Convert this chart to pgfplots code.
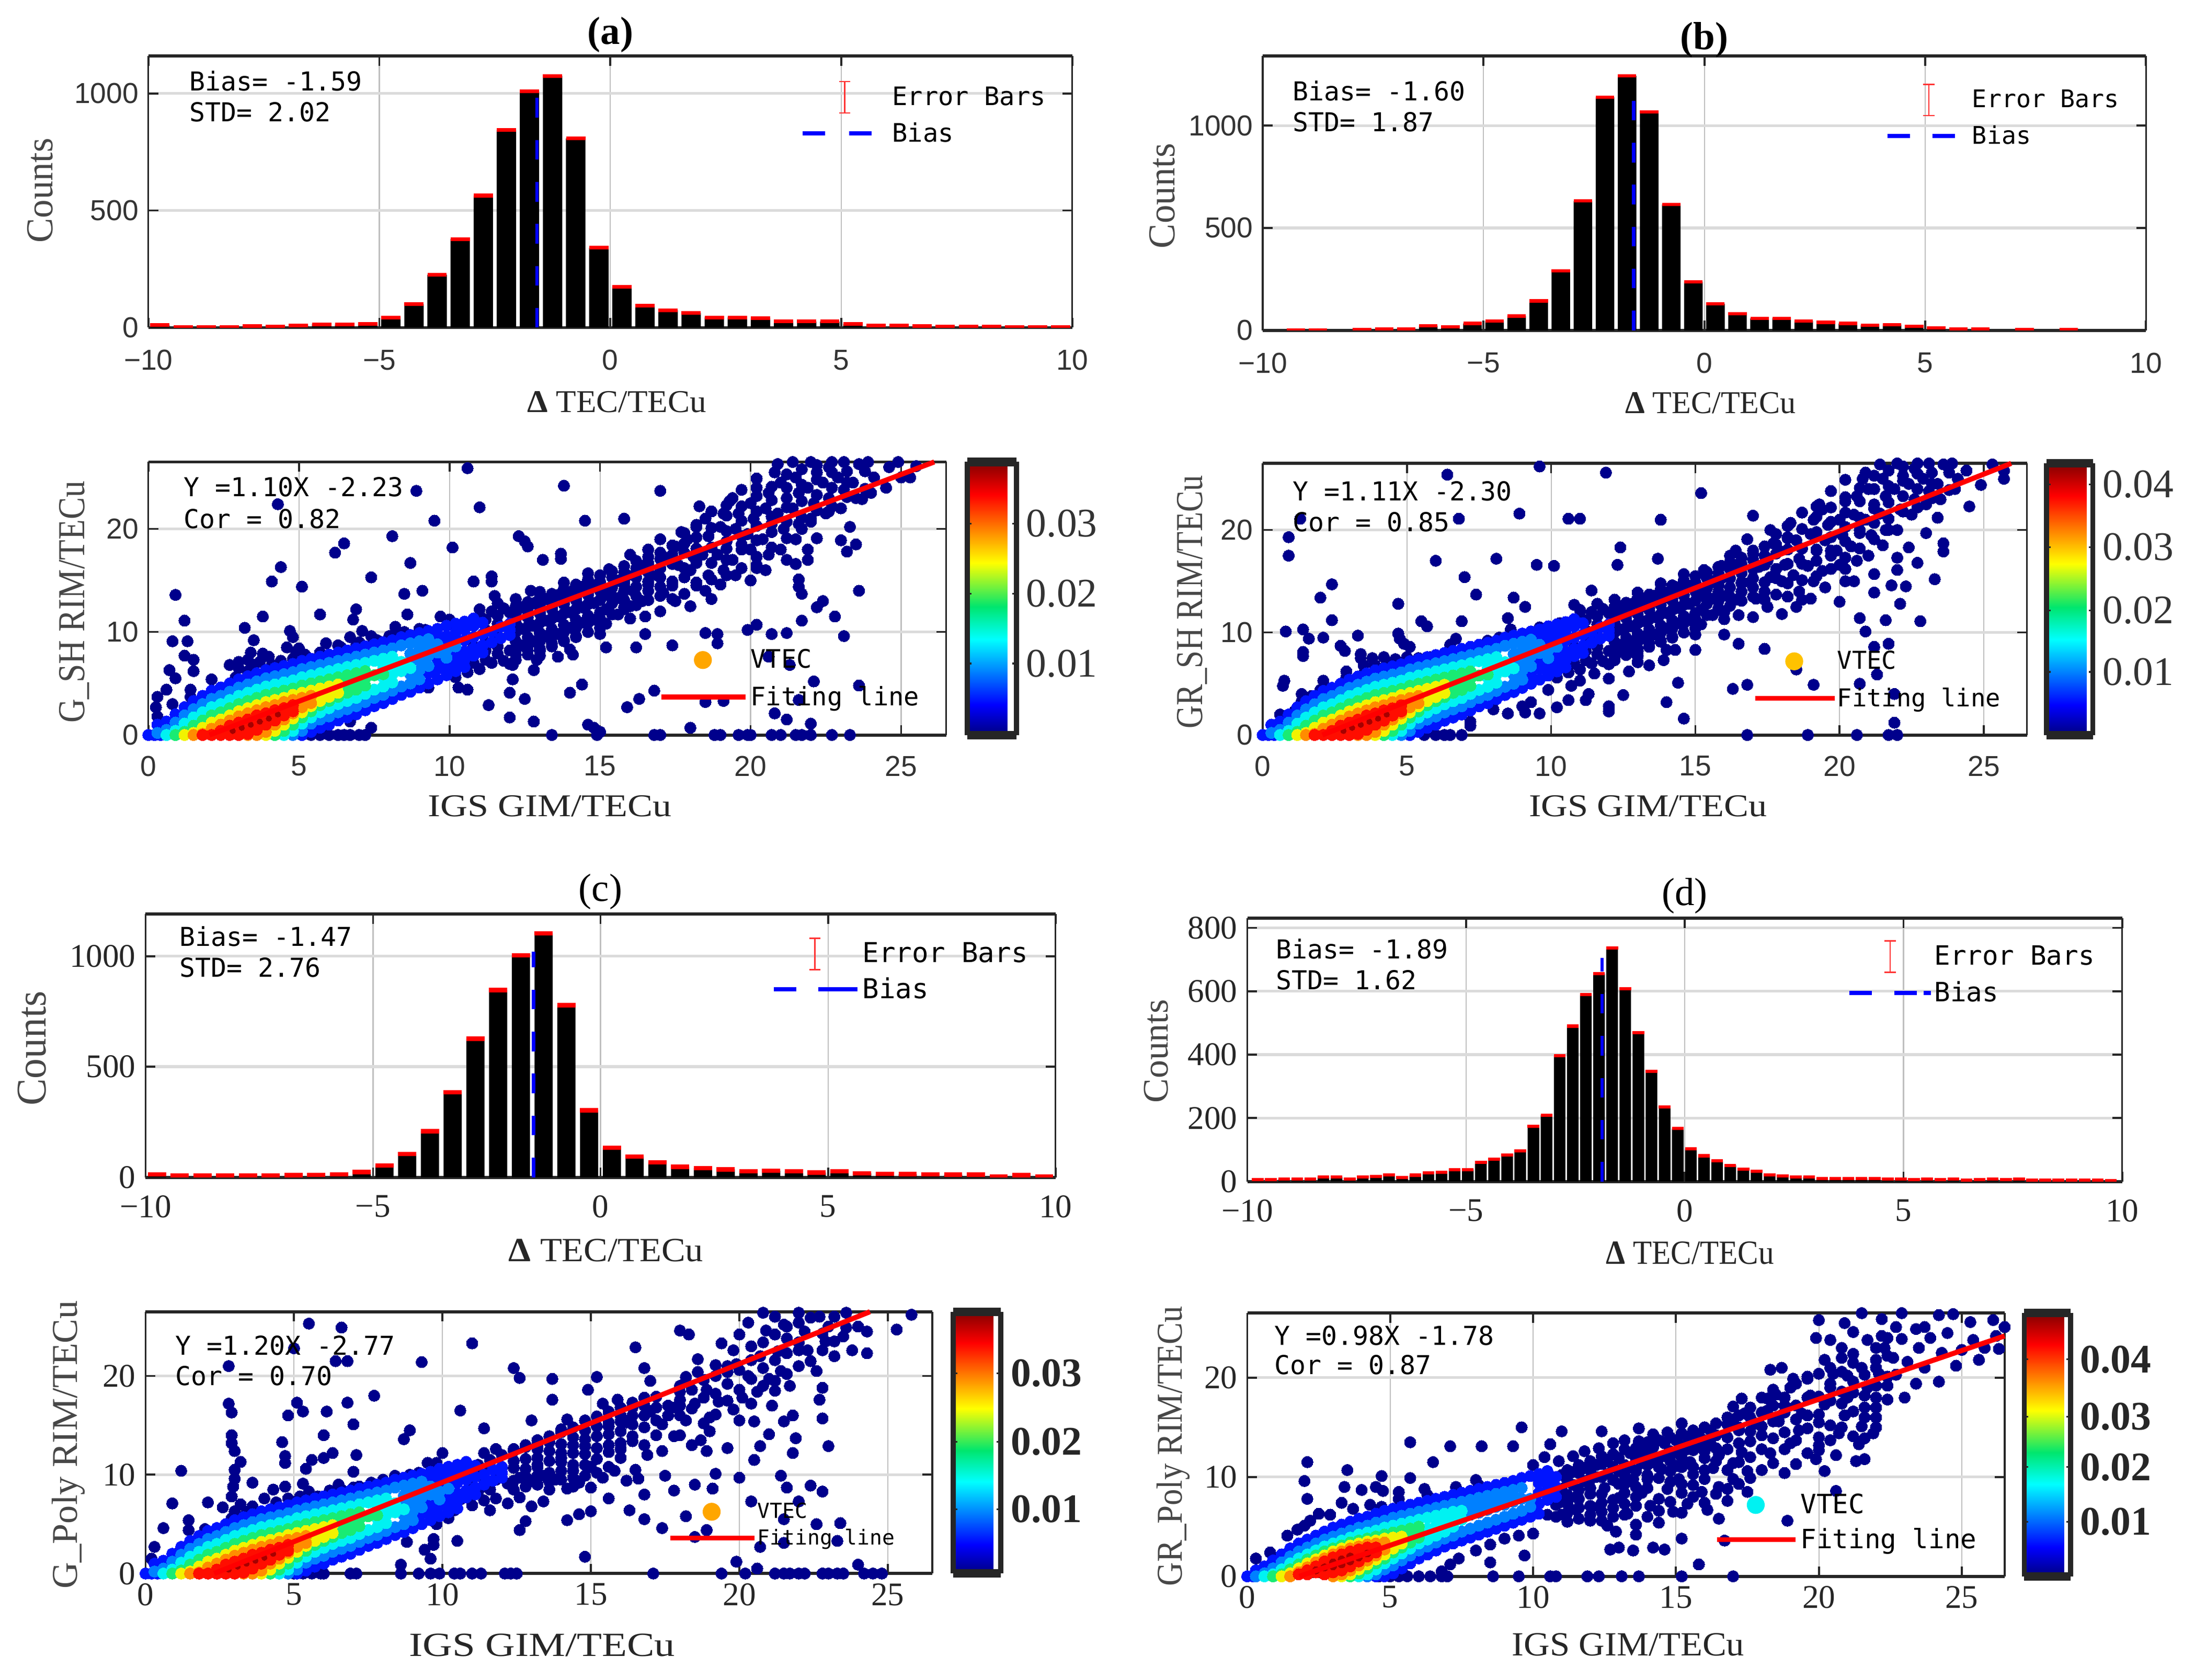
\documentclass[border=0pt]{standalone}
\usepackage{fontspec}
\usepackage{graphicx}
\usepackage{pgfplots}
\pgfplotsset{compat=1.18}
\newfontfamily\lsans{Liberation Sans}
\newfontfamily\lserif{Liberation Serif}
\newfontfamily\lmono{DejaVu Sans Mono}
\definecolor{J1}{rgb}{0,0,.55}
\definecolor{J2}{rgb}{0,.08,1}
\definecolor{J3}{rgb}{0,.5,1}
\definecolor{J4}{rgb}{0,.95,.95}
\definecolor{J5}{rgb}{.1,.92,.45}
\definecolor{J6}{rgb}{.95,.95,0}
\definecolor{J7}{rgb}{1,.55,0}
\definecolor{J8}{rgb}{1,.05,0}
\definecolor{J9}{rgb}{.65,0,0}
\definecolor{ebred}{rgb}{1,.2,.2}
\definecolor{VO}{rgb}{1,.65,0}
\definecolor{VY}{rgb}{1,.76,0}
\newcommand\fsz[1]{\fontsize{#1}{#1}\selectfont}
\newcommand\lab[3]{\resizebox{#1pt}{#2pt}{\lserif #3}}
\newcommand\T[3]{\node[anchor=west,inner sep=0pt,font=\lmono\fsz{9.3}] at ({#1*0.5pt},{(1200-#2)*0.5pt}) {#3};}
\newcommand\lay[3][2.05pt]{\addplot[only marks,mark=*,mark size=#1,color=#2,mark options={draw=#2,fill=#2,line width=0pt},forget plot] coordinates {#3};}
% legend images: width, icon position
\newcommand\legEB[2]{\addlegendimage{legend image code/.code={\path (0pt,-5.7pt) (#1pt,6.3pt);\draw[ebred,line width=.5pt] (#2pt,-5.3pt)--(#2pt,5.9pt) (#2pt-2pt,-5.3pt)--(#2pt+2pt,-5.3pt) (#2pt-2pt,5.9pt)--(#2pt+2pt,5.9pt);}}\addlegendentry{Error Bars}}
\newcommand\legB[2]{\addlegendimage{legend image code/.code={\path (0pt,-5.7pt) (#1pt,6.3pt);\draw[blue,line width=1.5pt,dash pattern=#2] (0pt,.3pt)--(#1pt,.3pt);}}\addlegendentry{Bias}}
\newcommand\legV[3]{\addlegendimage{legend image code/.code={\path (0pt,-5.7pt) (#1pt,6.3pt);\fill[#3] (#2pt,.3pt) circle (3pt);}}\addlegendentry{VTEC}}
\newcommand\legF[1]{\addlegendimage{legend image code/.code={\path (0pt,-5.7pt) (#1pt,6.3pt);\draw[red,line width=1.7pt] (0pt,.3pt)--(#1pt,.3pt);}}\addlegendentry{Fiting line}}
\pgfplotsset{
 colormap={cj}{rgb255(0cm)=(0,0,130); rgb255(1.1cm)=(0,0,255); rgb255(3.5cm)=(0,255,255); rgb255(4.7cm)=(0,230,110); rgb255(6.3cm)=(255,255,0); rgb255(8.8cm)=(255,0,0); rgb255(10cm)=(130,0,0)},
 base/.style={scale only axis,tick align=inside,grid=major,
  x grid style={black!25,line width=.4pt},y grid style={black!14,line width=1pt},
  tick style={black!85,line width=.7pt},major tick length=3.5pt,
  separate axis lines,x axis line style={line width=1.1pt,black!85},y axis line style={line width=.6pt,black!85},
  xlabel style={anchor=center,black!85},ylabel style={anchor=center,black!72},
  title style={anchor=center,yshift=-6pt},
  legend cell align=left},
 tsans/.style={tick label style={font=\lsans\fsz{10.3},black!80}},
 tserif/.style={tick label style={font=\lserif\fsz{11.8},black!85}},
 hist/.style={base,xmin=-10,xmax=10,ymin=0,xtick={-10,-5,0,5,10},xticklabels={−10,−5,0,5,10}},
 scat/.style={base,clip=false,xmin=0,xmax=26.5,ymin=0,ymax=26.5,xtick={0,5,10,15,20,25},xticklabels={0,5,10,15,20,25},ytick={0,10,20},yticklabels={0,10,20},colormap name=cj,point meta min=0,point meta max=1},
 ov/.style={scale only axis,hide axis,clip=false,xmin=0,xmax=26.5,ymin=0,ymax=26.5,legend cell align=left},
 leg/.style n args={5}{legend style={draw=none,fill=none,inner sep=0pt,outer sep=0pt,at={(#1,#2)},anchor=north west,row sep=#3,font=\lmono\fsz{#5},nodes={inner sep=0pt,outer sep=0pt},/tikz/column sep=#4}},
 cbar/.style n args={4}{colorbar,colorbar style={at={(#1,1)},anchor=north west,width=#2pt,ytick={#3},yticklabels={#4},yticklabel pos=right,xmin=0,xmax=.9,
   separate axis lines,x axis line style={line width=3pt,black!85},y axis line style={line width=1.8pt,black!85},major tick length=1.5pt,tick style={black!85,line width=.6pt},grid=none}},
 bars/.style n args={2}{ybar,bar width=#1,bar shift=0pt,fill=black,draw=none,forget plot,error bars/.cd,y dir=both,y fixed=#2,error mark=none},
}
\newcommand\coreA{%
\lay{J2}{(0,0)(.2,0)(.4,0)(.3,1)(.6,1.3)(.9,2)(1.2,2.7)(1.5,3.3)(1.8,3.8)(2.1,4.3)(2.4,4.6)(2.7,5)(3,5.4)(3.3,5.7)(3.6,6)(3.9,6.3)(4.2,6.5)(4.5,6.7)(4.8,6.9)(5.1,7.2)(5.4,7.4)(5.7,7.6)(6,7.8)(6.3,8)(6.6,8.2)(6.9,8.4)(7.2,8.6)(7.5,8.8)(7.8,9)(8.1,9.2)(8.4,9.5)(8.7,9.7)(9,9.9)(9.3,10.1)(9.6,10.3)(9.9,10.6)(10.2,10.8)(10.5,11)(10.8,11.3)
(3.9,0)(4.2,0)(4.5,0)(4.8,0)(5.1,0)(5.4,.3)(5.7,.7)(6,1)(6.3,1.4)(6.6,1.7)(6.9,2)(7.2,2.4)(7.5,2.8)(7.8,3.1)(8.1,3.5)(8.4,3.9)(8.7,4.2)(9,4.6)(9.3,5)(9.6,5.4)(9.9,5.8)(10.2,6.2)(10.5,6.6)
(9.9,9.6)(10.2,9.9)(10.5,10.2)(10.8,10.6)(11.1,10.9)(9.9,7.4)(10.2,7.7)(10.5,8.1)(10.8,8.4)(11.1,8.7)(11.4,9)(11.7,9.4)(12,9.7)(11.4,10)(11.7,10.5)(12,10.8)
(10.2,8.8)(10.5,9.2)(10.8,9.5)(11.1,9.8)(10.5,7.3)(10.8,7.7)(11.1,8)(12,10.2)
(9.3,6)(9.6,6.4)(9.9,6.8)(10.2,7)(9.6,7.3)(9.3,9.2)(9.6,9.5)(9.9,9)(10.2,9.3)}%
\lay{J3}{(.3,.2)(.6,.5)(.9,1.2)(1.2,1.9)(1.5,2.5)(1.8,3)(2.1,3.5)(2.4,3.8)(2.7,4.2)(3,4.6)(3.3,4.9)(3.6,5.2)(3.9,5.5)(4.2,5.7)(4.5,5.9)(4.8,6.1)(5.1,6.4)(5.4,6.6)(5.7,6.8)(6,7)(6.3,7.2)(6.6,7.4)(6.9,7.6)(7.2,7.8)(7.5,8)(7.8,8.2)(8.1,8.4)(8.4,8.7)(8.7,8.9)(9,9.1)(9.3,9.3)
(4.2,0)(4.5,0)(4.8,0)(5.1,.4)(5.4,1.1)(5.7,1.5)(6,1.8)(6.3,2.2)(6.6,2.5)(6.9,2.8)(7.2,3.2)(7.5,3.6)(7.8,3.9)(8.1,4.3)(8.4,4.7)(8.7,5)(9,5.4)(8.7,7)(9,7.3)(9.3,7.7)(9.6,8)(9.9,8.3)(10.2,8.6)
(8.7,5.9)(9,6.3)(9.3,6.7)(9.9,7.5)(8.7,7.9)(9,8.2)(9.3,8.5)(9.6,8.8)}%
\lay{J4}{(.6,0)(.9,.4)(1.2,1.1)(1.5,1.7)(1.8,2.2)(2.1,2.7)(2.4,3)(2.7,3.4)(3,3.8)(3.3,4.1)(3.6,4.4)(3.9,4.7)(4.2,4.9)(4.5,5.1)(4.8,5.3)(5.1,5.6)(5.4,5.8)(5.7,6)(6,6.2)(6.3,6.4)(6.6,6.6)(6.9,6.8)(7.2,7)(7.5,7.2)(7.8,7.4)(8.1,7.6)
(3.9,0)(4.2,0)(4.5,0)(4.8,.4)(5.1,1.1)(5.4,1.7)(5.7,2.2)(6,2.6)(6.3,3)(6.6,3.3)(6.9,3.6)(7.2,4)(7.5,4.4)(7.8,4.7)(8.1,5.1)
(7.8,5.6)(8.1,5.9)(8.4,6.2)(8.7,6.5)(7.8,6.5)(8.1,6.8)(8.4,7.1)}%
\lay{J5}{(.9,0)(1.2,.3)(1.5,.9)(1.8,1.4)(2.1,1.9)(2.4,2.2)(2.7,2.6)(3,3)(3.3,3.3)(3.6,3.6)(3.9,3.9)(4.2,4.1)(4.5,4.3)(4.8,4.5)(5.1,4.8)(5.4,5)(5.7,5.2)(6,5.4)(6.3,5.6)(6.6,5.8)(6.9,6)(7.2,6.2)
(3.6,0)(3.9,0)(4.2,0)(4.5,.4)(4.8,1)(5.1,1.7)(5.4,2.3)(5.7,2.9)(6,3.3)(6.3,3.7)(6.6,4.1)(6.9,4.4)(7.2,4.8)(7.8,5.9)
(6.6,4.9)(6.9,5.2)(7.2,5.5)(7.5,5.8)}%
\lay{J6}{(1.2,0)(1.5,.2)(1.8,.7)(2.1,1.2)(2.4,1.5)(2.7,1.9)(3,2.3)(3.3,2.6)(3.6,2.9)(3.9,3.2)(4.2,3.4)(4.5,3.6)(4.8,3.9)(5.1,4.1)(5.4,4.3)(5.7,4.5)(6,4.7)(6.3,4.9)
(3.3,0)(3.6,0)(3.9,0)(4.2,.4)(4.5,1)(4.8,1.6)(5.1,2.2)(5.4,2.8)(5.7,3.3)(6,3.7)(6.3,4.1)(5.7,3.9)(6,4.2)}%
\lay{J7}{(1.5,0)(1.8,.1)(2.1,.6)(2.4,1)(2.7,1.4)(3,1.8)(3.3,2.1)(3.6,2.4)(3.9,2.7)(4.2,2.9)(4.5,3.2)(4.8,3.4)(5.1,3.6)(5.4,3.8)
(3,0)(3.3,0)(3.6,0)(3.9,.3)(4.2,1)(4.5,1.5)(4.8,2.1)(5.1,2.7)(5.4,3.1)}%
\lay{J8}{(1.8,0)(2.1,0)(2.4,.4)(2.7,.9)(3,1.2)(3.3,1.5)(3.6,1.9)(3.9,2.1)(4.2,2.4)(4.5,2.6)(4.8,2.9)
(2.4,0)(2.7,0)(3,0)(3.3,.1)(3.6,.5)(3.9,1)(4.2,1.4)(4.5,1.9)(4.8,2.3)(2.7,.5)(3,.8)(3.3,1)(3.6,1.3)(3.9,1.5)(4.2,1.9)}%
\lay[1pt]{J9}{(2.8,.4)(3.1,.7)(3.4,1)(3.7,1.3)(4,1.6)(4.3,2)}%
}
\newcommand\bulkA{\lay{J1}{(10,6.3)(10,7.6)(10.4,6.7)(10.4,8)(10.4,10.3)(10.8,7)(10.8,8.6)(10.8,10.7)(11.2,7.3)(11.2,9)(11.2,11.2)(11.6,7.9)(11.6,9.4)(11.6,11.6)(12,8.2)(12,9.9)(12,11.9)(12.4,8.7)(12.4,10.3)(12.4,12.4)(12.8,9.1)(12.8,10.6)(12.8,12.8)(13.2,9.6)(13.2,11.1)(13.2,13.2)(13.6,9.8)(13.6,11.5)(13.6,13.6)(14,10.4)(14,11.9)(14,13.9)(14.4,10.9)(14.4,12.4)(14.4,14.4)(14.8,11.2)(14.8,12.8)(14.8,14.5)(15.2,10.8)(15.2,12.2)(15.2,13.6)(15.6,11.7)(15.6,13.3)(15.6,15)
(10.2,5.6)(10.6,6.1)(11,6.4)(11.4,7)(11.8,7.2)(12.2,7.8)(12.6,8.2)(13,8.4)(13.4,8.9)(13.8,9.2)(14.2,9.6)(14.6,10)(12.2,9.1)(12.6,9.5)(13,9.9)(13.4,10.3)(13.8,10.7)(14.2,11.2)(14.6,11.6)(15,11.9)(12.6,11.6)(13,12)(13.4,12.4)(13.8,12.9)(14.2,13.3)(14.6,13.7)(15,14.2)(15.4,14.3)(15.8,14.6)(15.4,12.8)(15.8,12.4)(12,6.9)(13,7.7)(14,8.3)(15,9.8)(16,11.3)(11,12.2)(11.6,12.8)(12.2,13.2)(13,13.9)(13.8,14.8)(14.6,15.7)(15.3,16.1)
(10.8,8)(11.2,8.2)(11.6,8.6)(11.2,10.2)(11.6,10.8)(11,11.6)(11.4,12)(11.8,12.3)
(12.2,7.3)(12.2,8.2)(12.2,10)(12.2,10.9)(12.2,11.8)(12.2,12.5)(12.6,7.8)(12.6,8.7)(12.6,10.5)(12.6,11.4)(12.6,12.3)(12.6,12.9)(13,8.2)(13,9.1)(13,10.9)(13,11.8)(13,12.7)(13,13.3)(13.4,8.6)(13.4,9.5)(13.4,11.3)(13.4,12.2)(13.4,13.1)(13.4,13.7)(13.8,9.1)(13.8,10)(13.8,11.8)(13.8,12.7)(13.8,13.6)(13.8,14.2)(14.2,9.5)(14.2,10.4)(14.2,12.2)(14.2,13.1)(14.2,14)(14.2,14.6)(14.6,10.9)(14.6,12.7)(14.6,13.6)(14.6,14.5)(14.6,15.1)(15,10.4)(15,11.3)(15,13.1)(15,14)(15,14.9)(15,15.5)(15.4,11.7)(15.4,13.5)(15.4,14.4)(15.4,15.3)(15.4,15.9)(15.8,12.2)(15.8,13.1)(15.8,14)(15.8,14.9)(15.8,15.8)(15.8,16.4)(16.2,12.6)(16.2,13.5)(16.2,14.4)(16.2,15.3)(16.2,16.2)(16.2,16.9)(16.6,13.1)(16.6,14)(16.6,14.9)(16.6,15.8)(16.6,16.7)(16.6,17.3)(17,13.5)(17,14.4)(17,15.3)(17,16.2)(17,17.1)(17,17.7)
(17.4,13.2)(17.4,14.9)(17.4,16.6)(17.4,17.5)(17.4,18.4)(17.8,13.7)(17.8,15.3)(17.8,16.2)(17.8,17.7)(17.8,18.6)(17.8,19.6)(18.2,14.8)(18.2,16.7)(18.2,18.1)(18.2,19.2)(18.2,20.4)(18.7,13.2)(18.7,15.1)(18.7,16.7)(18.7,18.2)(18.7,20.1)(18.7,21.7)(19.2,15.5)(19.2,17)(19.2,18.1)(19.2,19.8)(19.2,21.3)(19.2,22.3)(19.7,16.2)(19.7,18)(19.7,19.3)(19.7,20.8)(19.7,22.2)(19.7,23.8)(20.2,16.2)(20.2,17.3)(20.2,18.9)(20.2,20.3)(20.2,21.7)(20.2,23.2)(20.2,24.9)(20.7,18.2)(20.7,19.7)(20.7,21.2)(20.7,22.8)(20.7,24.1)(21.2,19.1)(21.2,20.7)(21.2,22.1)(21.2,24)(21.2,25.3)(21.7,20)(21.7,21.1)(21.7,22.7)(21.7,24.3)(21.7,25.8)(22.2,21.8)(22.2,23.3)(22.2,24.8)(22.2,26.2)(22.7,22.2)(22.7,24)(22.7,25.5)(22.7,26.5)(23.2,23.1)(23.2,24.5)(23.2,25.6)(23.8,23.9)(23.8,25.6)}}
\begin{document}
\begin{tikzpicture}
\path[use as bounding box] (0,0) rectangle (784pt,600pt);
%% ---------- (a) histogram
\begin{axis}[hist,tsans,at={(53pt,483pt)},anchor=south west,width=330pt,height=97pt,ymax=1160,ytick={0,500,1000},yticklabels={0,500,1000},xticklabel style={yshift=-4.5pt},
 title={\lserif\bfseries\fsz{14}(a)},title style={at={(axis description cs:.5,1.078)}},
 xlabel={\lab{64}{7.5}{\textbf{Δ} TEC/TECu}},xlabel style={at={(axis description cs:.507,-.273)}},
 ylabel={\lab{37.5}{9}{Counts}},ylabel style={at={(axis description cs:-.117,.505)}},
 leg={.706}{.912}{.5pt}{6.2pt}{9.1}]
\addplot[bars={.42}{8},error bar style={red,line width=6.9pt}] coordinates {(-9.75,11)(-9.25,3)(-8.75,3)(-8.25,3)(-7.75,6)(-7.25,4)(-6.75,9)(-6.25,14)(-5.75,13)(-5.25,16)(-4.75,43)(-4.25,100)(-3.75,226)(-3.25,378)(-2.75,564)(-2.25,844)(-1.75,1010)(-1.25,1075)(-.75,808)(-.25,341)(.25,175)(.75,93)(1.25,74)(1.75,63)(2.25,43)(2.75,43)(3.25,40)(3.75,26)(4.25,26)(4.75,26)(5.25,15)(5.75,9)(6.25,8)(6.75,6)(7.25,5)(7.75,5)(8.25,5)(8.75,1)(9.25,3)(9.75,1)};
\addplot[blue,line width=1.2pt,dash pattern=on 7pt off 8pt,forget plot] coordinates {(-1.59,0)(-1.59,990)};
\legEB{25}{15}\legB{25}{on 8pt off 8.5pt}
\end{axis}
%% ---------- (b) histogram
\begin{axis}[hist,tsans,at={(451pt,482pt)},anchor=south west,width=315.5pt,height=98pt,ymax=1340,ytick={0,500,1000},yticklabels={0,500,1000},xticklabel style={yshift=-4.5pt},
 title={\lserif\bfseries\fsz{14}(b)},title style={at={(axis description cs:.5,1.058)}},
 xlabel={\lab{61}{7.5}{\textbf{Δ} TEC/TECu}},xlabel style={at={(axis description cs:.507,-.265)}},
 ylabel={\lab{37.5}{9}{Counts}},ylabel style={at={(axis description cs:-.114,.49)}},
 leg={.705}{.903}{.5pt}{5.5pt}{8.7}]
\addplot[bars={.42}{8},error bar style={red,line width=6.6pt}] coordinates {(-9.25,3)(-8.75,3)(-7.75,5)(-7.25,7)(-6.75,8)(-6.25,22)(-5.75,17)(-5.25,34)(-4.75,46)(-4.25,70)(-3.75,144)(-3.25,290)(-2.75,632)(-2.25,1138)(-1.75,1243)(-1.25,1066)(-.75,615)(-.25,237)(.25,130)(.75,81)(1.25,58)(1.75,59)(2.25,46)(2.75,39)(3.25,34)(3.75,25)(4.25,28)(4.75,20)(5.25,13)(5.75,6)(6.25,6)(7.25,4)(8.25,4)};
\addplot[blue,line width=1.2pt,dash pattern=on 7pt off 8pt,forget plot] coordinates {(-1.6,0)(-1.6,1127)};
\legEB{24}{14.75}\legB{24}{on 8pt off 8pt}
\end{axis}
%% ---------- (c) histogram
\begin{axis}[hist,tserif,at={(52pt,179.5pt)},anchor=south west,width=325pt,height=94pt,ymax=1190,ytick={0,500,1000},yticklabels={0,500,1000},xticklabel style={yshift=-3pt},
 title={\lserif\fsz{14}(c)},title style={at={(axis description cs:.5,1.085)}},
 xlabel={\lab{69.5}{8}{\textbf{Δ} TEC/TECu}},xlabel style={at={(axis description cs:.506,-.277)}},
 ylabel={\lab{41}{10}{Counts}},ylabel style={at={(axis description cs:-.125,.49)}},
 leg={.688}{.915}{.2pt}{1pt}{9.8}]
\addplot[bars={.4}{10},error bar style={red,line width=6.5pt}] coordinates {(-9.75,13)(-9.25,8)(-8.75,8)(-8.25,8)(-7.75,9)(-7.25,8)(-6.75,10)(-6.25,11)(-5.75,13)(-5.25,24)(-4.75,54)(-4.25,105)(-3.75,208)(-3.25,385)(-2.75,627)(-2.25,847)(-1.75,1004)(-1.25,1103)(-.75,778)(-.25,303)(.25,134)(.75,94)(1.25,67)(1.75,48)(2.25,42)(2.75,36)(3.25,28)(3.75,30)(4.25,27)(4.75,22)(5.25,27)(5.75,18)(6.25,16)(6.75,14)(7.25,13)(7.75,12)(8.25,12)(8.75,3)(9.25,10)(9.75,4)};
\addplot[blue,line width=1.2pt,dash pattern=on 7pt off 8pt,forget plot] coordinates {(-1.47,0)(-1.47,1020)};
\legEB{30}{14.75}\legB{30}{on 8pt off 8pt on 14pt off 1pt}
\end{axis}
%% ---------- (d) histogram
\begin{axis}[hist,tserif,at={(445.5pt,178pt)},anchor=south west,width=312.5pt,height=94pt,ymax=830,ytick={0,200,400,600,800},yticklabels={0,200,400,600,800},xticklabel style={yshift=-3pt},
 title={\lserif\fsz{14}(d)},title style={at={(axis description cs:.5,1.085)}},
 xlabel={\lab{60}{8}{\textbf{Δ} TEC/TECu}},xlabel style={at={(axis description cs:.506,-.271)}},
 ylabel={\lab{37}{8.5}{Counts}},ylabel style={at={(axis description cs:-.104,.495)}},
 leg={.686}{.920}{.5pt}{.5pt}{9.5}]
\addplot[bars={.265}{5},error bar style={red,line width=4.2pt}] coordinates {(-9.76,6)(-9.46,6)(-9.16,8)(-8.86,8)(-8.56,8)(-8.26,14)(-7.96,15)(-7.66,8)(-7.36,15)(-7.06,16)(-6.76,21)(-6.46,13)(-6.16,20)(-5.86,27)(-5.56,29)(-5.26,37)(-4.96,38)(-4.66,61)(-4.36,71)(-4.06,84)(-3.76,96)(-3.46,174)(-3.16,209)(-2.86,397)(-2.56,490)(-2.26,589)(-1.96,656)(-1.66,737)(-1.36,608)(-1.06,470)(-.76,348)(-.46,235)(-.16,167)(.14,103)(.44,81)(.74,65)(1.04,51)(1.34,39)(1.64,33)(1.94,21)(2.24,18)(2.54,14)(2.84,14)(3.14,9)(3.44,9)(3.74,9)(4.04,10)(4.34,9)(4.64,7)(4.94,7)(5.24,6)(5.54,8)(5.84,6)(6.14,7)(6.44,5)(6.74,6)(7.04,7)(7.34,6)(7.64,7)(7.94,5)(8.24,4)(8.54,5)(8.84,5)(9.14,5)(9.44,4)(9.74,3)};
\addplot[blue,line width=1.2pt,dash pattern=on 7pt off 8pt,forget plot] coordinates {(-1.89,0)(-1.89,705)};
\legEB{29}{14.5}\legB{29}{on 8pt off 8pt on 8pt off 2.5pt on 2.5pt}
\end{axis}
%% ---------- (a) scatter
\begin{axis}[scat,tsans,at={(53pt,337.5pt)},anchor=south west,width=285pt,height=97.5pt,xticklabel style={yshift=-4pt},
 xlabel={\lab{87}{7.5}{IGS GIM/TECu}},xlabel style={at={(axis description cs:.503,-.26)}},
 ylabel={\lab{86.5}{9}{G\_SH RIM/TECu}},ylabel style={at={(axis description cs:-.093,.487)}},
 cbar={1.0265}{17.5}{.2615,.518,.774}{\lserif\fsz{14.5}0.01,\lserif\fsz{14.5}0.02,\lserif\fsz{14.5}0.03}]
\lay{J1}{(10.6,25.9)(8.9,23.7)(4.3,22.4)(11,22.1)(13.8,24.2)(17,23.7)(14.5,20.8)(15.8,21)(9.5,20.8)(8.1,19.3)(12.3,19.3)(12.5,18.8)(12.6,18.3)(6.5,18.6)(6.2,17.7)(10.1,18.2)(4.4,16.3)(8.7,16.7)(7.4,15.3)(4.1,14.9)(5.1,14.4)(.9,13.6)(8.5,13.7)(9.1,14)(10.8,14.9)(11.4,15.4)(11.4,14.9)(11.5,13.5)(12.7,14)(13.1,17)(13.7,17.6)(13.7,17.1)(1.2,11.1)(3.2,10.4)(3.8,11.5)(5.7,11.7)(6.9,12.2)(6.8,11.2)(8.6,11.7)(8.2,10.5)(9.2,10.2)(9.7,11.5)(10,11.2)(10.1,10.7)(.8,9.1)(1.3,9.1)(3.5,9.2)(4.7,10.1)(4.8,9.5)(6.7,9.5)(7.1,10.1)(5.9,8.9)(6.3,8.7)(1.2,7.7)(1.5,7.3)(.7,6.3)(.9,5.5)(1.5,6.2)(2.1,5.4)(.6,4.4)(1.4,4.4)(1.4,3.7)(2.4,4.6)(.3,3.7)(.25,2.7)(.8,3)(.3,1.8)(1.4,2.7)
(3,6.5)(3.3,6.2)(3.5,6.8)(3.8,5.9)(2.9,5.6)(4.1,6.8)(4.4,7.2)(4.8,7.4)(4.9,8.1)(3.8,7.9)(4,7.6)(3.4,8)(5.2,7.8)(5.7,8)(4.6,8.5)(5,8.4)(3.3,7.3)(6.4,8.5)(7,9)(7.6,9.2)(8,9.6)(8.5,10)(9,10.3)(3,7.1)(2.7,6.8)(3.7,7.1)(6.9,8.7)(7.4,9.6)(8.3,9.9)
(23.6,14)(22.4,13)(22.2,12.4)(22.8,11.5)(21.7,11.1)(20.2,10.7)(19.9,10.2)(20.7,9.8)(21.2,9.9)(23.1,9.6)(18.5,9.9)(18.9,9.8)(18.9,8.9)(16.5,9.8)(16.2,8.5)(17.4,8.7)(15.2,8.5)(14.1,7.8)(13.6,7.6)(12.9,7.3)(12.1,6.8)(12.8,6.3)(12.1,5.4)(10.3,4.6)(10.6,4.4)(9.3,4.6)(14.4,4.9)(14,4.1)(12,4.1)(12.5,3.5)(11.3,2.9)(12,1.7)(12.8,1.3)(14.6,1)(14.8,.7)(16.8,4.3)(16.3,3.5)(15.9,2.7)(18.5,3.2)(19.1,3.3)(22.1,5.2)(23.6,4.8)(21.6,3.4)(20.8,2.1)(21.2,1.5)(22,1.1)(18,.7)(20.6,7.6)(21.3,6.8)
(13.4,0)(14.9,0)(15,.3)(16.8,0)(17,0)(18.8,0)(19,0)(19.6,0)(19.9,0)(20,0)(20.7,0)(21,0)(21.5,0)(21.7,0)(22,0)(22.7,0)(23.3,0)(5.4,0)(5.7,0)(6,0)(6.3,0)(6.5,0)(6.7,0)(7,0)(7.2,0)(7.4,.7)(6.7,1.3)
(21.6,15.1)(21.6,14.4)(21.7,13.7)(21.2,17)(21.5,16.6)(21.9,17)(23.3,20.2)(23,18.9)(23.5,18.5)(23.2,17.8)(22.2,19.1)(21.9,18)(25.3,25)(23.7,22.9)(22.6,21.7)(22,20.7)
(16,12.5)(16.1,14)(15.9,15.5)(16,17.5)(16.5,11.5)(16.4,13)(16.6,14.6)(16.5,16.5)(16.6,18)(17,12)(17.1,13.8)(16.9,15.5)(17.2,17.2)(17,19)(17.5,13)(17.4,14.5)(17.6,16.5)(17.5,18.3)(17.7,19.7)(18,12.5)(18.2,14.5)(18,16)(18.1,17.3)(17.9,19)(18.2,20.2)(18.5,14)(18.6,15.5)(18.4,17.5)(18.6,19.3)(18.5,21)(18.3,22.2)(19,14.6)(19.1,16)(18.9,17.5)(19.2,18.8)(19,20.2)(19.1,21.5)(19.3,22.7)(19.5,15.5)(19.4,17)(19.7,18.5)(19.5,20)(19.6,21.5)(19.4,23)(20,15)(20.2,16.5)(20,18)(19.9,19.5)(20.1,21)(20,22.5)(20.2,24)(20.5,16)(20.6,17.5)(20.4,19)(20.7,20.5)(20.5,22)(20.6,23.5)(20.8,25.5)(21,18)(21.1,20)(20.9,21.5)(21.2,23)(21,24.5)(20.9,26.3)(21.5,19)(21.6,20.5)(21.4,22)(21.6,23.5)(21.5,25)(21.4,26.5)(22,21)(22.1,22.5)(21.9,24)(22.2,25.5)(22,26.5)(22.5,21.5)(22.6,23)(22.4,24.5)(22.6,26)(23,22)(23.1,23.8)(22.9,25)(23.1,26.5)(23.5,23)(23.4,24.5)(23.6,26.3)(24,23.5)(24.1,25)(23.9,26.5)(24.5,24)(24.6,26)(25,25)(24.9,26.5)(25.5,26.1)}
\bulkA\coreA
\end{axis}
\begin{axis}[ov,at={(53pt,337.5pt)},anchor=south west,width=285pt,height=97.5pt,leg={.640}{.338}{.8pt}{1pt}{9.1}]
\addplot[red,line width=1.8pt,forget plot] coordinates {(2.03,0)(26.1,26.5)};
\legV{30}{14.8}{VO}\legF{30}
\end{axis}
%% ---------- (b) scatter
\begin{axis}[scat,tsans,at={(451pt,337.5pt)},anchor=south west,width=273pt,height=97pt,xticklabel style={yshift=-4pt},
 xlabel={\lab{85}{7.5}{IGS GIM/TECu}},xlabel style={at={(axis description cs:.504,-.263)}},
 ylabel={\lab{90.5}{9}{GR\_SH RIM/TECu}},ylabel style={at={(axis description cs:-.092,.49)}},
 cbar={1.0256}{16.5}{.232,.459,.691,.923}{\lserif\fsz{14.5}0.01,\lserif\fsz{14.5}0.02,\lserif\fsz{14.5}0.03,\lserif\fsz{14.5}0.04}]
\lay{J1}{(9.6,26.2)(11.9,25.6)(6.4,25.4)(15.2,23.6)(8.9,21.6)(10.6,21.1)(11,21.1)(13.8,21)(6.8,21.1)(17,21.4)(1.3,21.1)(.9,19.3)(.9,17.5)(12.4,18.3)(8.1,17.2)(13.7,17.2)(6,17)(12.3,16.6)(9.5,16.6)(10.1,16.5)(7,15.4)(2.4,14.7)(2,13.4)(7.4,13.7)(8.7,13.4)(9.1,12.5)(4.7,12.8)(11.4,14.1)(10.8,12.7)(11.4,11.9)(8.5,11.4)(2.4,11.2)(5.5,11.1)(5.7,10.6)(6.9,11.1)(.8,10.1)(1.4,10.3)(1.6,9.4)(2.1,9.5)(3.3,9.7)(4.7,9.9)(4.75,9.4)(4.9,8.9)(5.1,8.6)(6.7,9.4)(6.5,8.8)(2.7,8.7)(2.85,8.2)(3.4,7.9)(1.4,8.1)(1.4,7.7)(8.2,9.5)(8.6,10.3)(9.6,10.5)(10.3,10.9)
(.75,5.3)(.7,4.8)(2.1,5.3)(2,4.4)(2.9,6.2)(2.9,5.6)(3.1,4.9)(1.35,4)(1.35,3.3)(.6,2)(1.1,2.3)(1.7,3.8)(2.5,4)(3.4,7.5)(3.8,7.5)(4.2,7.6)(4.6,7.4)(5,7.6)(5.4,7.5)(5.8,7.6)(6.2,7.4)(6.6,7.7)(7,7.9)(7.4,8.2)(7.7,8.6)(3.5,6.8)(3.9,6.8)(4.3,6.9)(4.7,6.7)(5.1,6.9)(3.5,6)(3.9,6.1)(7.8,9.2)
(23.3,15.2)(22.1,12.8)(22.8,11.1)(21.6,11.2)(20.7,11.4)(20.9,10.1)(21.7,8.9)(21.2,8.6)(21.3,5.9)(20.7,5)(19.1,4.9)(18.5,6.4)(16.8,4.9)(16.3,4.5)(17.4,8.4)(16.5,8.9)(14.4,5.1)(14,3.2)(14.6,1.6)(12.5,3.9)(12,2.8)(12,2.3)(11.3,4)(11.2,3.4)(10.6,3.4)(10.2,2.7)(10.7,4.8)(9.9,4.4)(9.6,2.1)(9.1,2.2)(9.3,3.2)(21.9,1.2)(21.9,4)(11.5,6)(12,5.5)(12.7,6.2)(13.4,6.8)(13.9,7.3)(14.3,8.3)(15,8.3)(16,9.8)(13,7.1)(11,5.3)
(16.8,0)(18.9,0)(20.6,0)(21.7,0)(22,0)(5.6,0)(6,0)(6.3,0)(6.5,0)(6.9,0)(7.2,.9)(7.2,1.3)(8,2.5)(8.5,2.1)(9,2.8)
(23,19.7)(22.4,18.3)(22.7,16.8)(22,17.3)(22,16.1)(21.2,15.7)(21.8,14.6)(21.2,13.9)(22.3,14.5)(24.5,22.3)(23.6,18.7)(23.6,17.9)(23.4,21.2)
(16,12)(16.1,13.6)(15.9,15.3)(16.2,17.5)(15.9,16.5)(16.5,11.7)(16.4,13.2)(16.6,14.8)(16.5,16.7)(16.4,18)(17,11.5)(17.1,13.3)(16.9,14.9)(17.2,16.4)(17,18)(16.8,19.1)(17.5,12.5)(17.4,14)(17.6,15.4)(17.5,17)(17.7,18.7)(17.6,20)(18,11.8)(18.2,13.5)(18,15)(18.1,16.6)(17.9,18)(18.2,19.3)(18.5,12.5)(18.6,14)(18.4,15.6)(18.6,17.2)(18.5,19)(18.3,20.7)(19,13.3)(19.1,15)(18.9,16.5)(19.2,18)(19,19.6)(19.1,21)(19.3,22.5)(19.5,14.4)(19.4,16)(19.7,17.5)(19.5,19)(19.6,20.5)(19.4,22)(20,13)(20.2,15)(20,16.6)(19.9,18)(20.1,19.5)(20,21)(20.2,22.8)(20.5,15)(20.6,17)(20.4,18.4)(20.7,20)(20.5,21.5)(20.6,23.3)(20.8,25)(21,17.5)(21.1,19.5)(20.9,21)(21.2,22.5)(21,24)(20.9,25.6)(21.5,18.5)(21.6,20)(21.4,21.6)(21.6,23.3)(21.5,25)(21.4,26.4)(22,20)(22.1,22)(21.9,24)(22.2,25.3)(22,26.5)(22.5,21.5)(22.6,23)(22.4,24.5)(22.6,26)(23,22.5)(23.1,23.8)(22.9,25)(23.1,26.5)(23.5,23)(23.4,24.5)(23.6,26.4)(24,24)(24.1,25)(23.9,26.5)(24.4,25.8)(25.7,25)(25.7,25.8)(25.3,26.4)(24.9,24.4)}
\bulkA\coreA
\end{axis}
\begin{axis}[ov,at={(451pt,337.5pt)},anchor=south west,width=273pt,height=97pt,leg={.641}{.335}{.8pt}{0pt}{8.8}]
\addplot[red,line width=1.8pt,forget plot] coordinates {(2.07,0)(25.95,26.5)};
\legV{28.5}{14}{VY}\legF{28.5}
\end{axis}
%% ---------- (c) scatter
\begin{axis}[scat,tserif,at={(52pt,38pt)},anchor=south west,width=281pt,height=93.5pt,
 xlabel={\lab{95}{8}{IGS GIM/TECu}},xlabel style={at={(axis description cs:.504,-.273)}},
 ylabel={\lab{103}{9}{G\_Poly RIM/TECu}},ylabel style={at={(axis description cs:-.098,.492)}},
 cbar={1.0267}{17}{.246,.503,.765}{\lserif\bfseries\fsz{14.5}0.01,\lserif\bfseries\fsz{14.5}0.02,\lserif\bfseries\fsz{14.5}0.03}]
\lay{J1}{(5.5,25.3)(6.6,24.9)(25.8,26.2)(25.3,24.7)(11,23.3)(5,22.8)(6.4,21.5)(6.8,21.5)(9.3,21.4)(2.8,21)(12.4,20.8)(12.6,19.8)(13.7,19.7)(15.2,19.9)(16.5,22.9)(18,24.6)(18.3,24.2)(16.8,20.8)(17,19.5)(14.9,18.6)(13.7,17.6)(7.7,18)(6.8,17.3)(5.1,17.3)(2.8,17.2)(2.9,16.3)(5.3,16.4)(4.8,16)(6.1,16.4)(10.6,16.5)(7,15.1)(13,15.5)(14.2,15.6)(11.4,14.7)(8.9,14.5)(8.7,13.6)(6,14)(2.9,14)(2.9,13.2)(3,12.4)(4.6,13.3)(4.7,11.9)(4.7,11.2)(7.1,12)(6.3,12.2)(6,11.7)(5.6,11.5)(3.2,11.3)(3,10.5)(1.2,10.4)(5.4,10.6)(7,10.3)(9.5,11.2)(10,12.2)(9.8,11.2)(3,9.6)(2.95,8.8)(2.9,7.8)(3.6,9.2)(4.3,8.5)(4.7,8.8)(5.3,9.1)(5.5,8.3)(5.8,7.8)(6.5,9)(7.2,8.8)(.9,7.1)(2.1,7.2)(2.6,6.7)(.6,4.6)(1.45,5.4)(1.45,4.4)(.3,2.7)(.2,1.5)(1.1,2.1)(2,4.5)(2.1,4)
(3.2,7)(3.6,6.8)(4,7.6)(4.4,7.2)(4.8,7.6)(5.2,7.8)(6.2,8.4)(6.6,8.5)(7,8.7)(7.6,9.2)(8,9.5)(8.4,9.9)(8.9,10)(9.2,10.2)(3,6.3)(2.9,5.6)(3.4,6.2)
(24.3,22.3)(22.8,18.8)(22.7,17.6)(22.8,15.7)(21.8,16)(21.5,15.4)(21.2,18.5)(21.9,13.7)(23,12.9)(21.8,12.2)(21,14.1)(20.7,12.9)(20.5,11.5)(19.6,12.7)(18.9,12.4)(18.7,13.5)(21.4,9.9)(20,9.7)(19.2,10.1)(17.5,9.9)(16.5,10.5)(16.6,9.6)(16.2,9.4)(18.5,9)(19.1,8.6)(17.8,8.4)(16.8,8)(15.6,7.6)(21.6,8.7)(22.4,8.9)(22.8,8.3)(20.4,7.3)(22,7.3)(21.5,5.5)(22.6,5)(23.4,5.1)(18.2,5.8)(16.3,6.4)(15,6.3)(14.6,6)(14.2,5.4)(12.8,5.3)(12.6,4.4)(17.4,4.6)(16.8,5.5)(18.9,4.4)(18.5,3.7)(20.7,2.7)(21.5,3.1)(23.3,3.3)(14.8,1.7)(10.5,3.3)(9.7,3.5)(9.7,2.9)(9.8,5)(10.2,5.6)(8.8,3.2)(9.4,2.4)(9.6,1.5)(19.9,1.2)(20.6,.5)(24,.9)(8.6,.9)
(5,0)(5.3,0)(5.6,0)(5.9,0)(6,0)(6.9,0)(7.1,0)(8.6,0)(9.2,0)(9.6,0)(9.9,0)(10.4,0)(10.6,0)(11,0)(11.3,0)(12.1,0)(12.3,0)(12.5,0)(17.1,0)(19.4,0)(20.2,0)(21.2,0)(21.5,0)(21.7,0)(22,0)(22.2,0)(22.8,0)(23,0)(23.3,0)(23.5,0)(24.2,0)(24.5,0)(24.8,0)
(9.9,7)(10.2,8.2)(10.6,7.5)(11,6.9)(11.4,7.4)(11.8,7.6)(12.2,7.1)(12.6,7.7)(13,6.8)(13.4,7.3)(11,8.7)(11.4,9.1)(11.8,9.5)(12.2,9.1)(12.6,9.7)(13,9.4)(13.4,9.9)(13.8,9.5)(14.2,8.6)(14.6,9.2)(15,8.7)(15.4,9.7)(15.8,10.4)(10.4,9.9)(10.8,10.3)(11.2,11)(11.6,11.5)(12,12)(12.4,12.4)(12.8,12.8)(13.2,13.1)(12,10.7)(12.4,10.7)(12.8,10.6)(13.2,11)(13.6,11.4)(14,11.7)(14.4,12.2)(14.8,12.1)(15.2,11.6)(15.6,12.3)(16,11.7)(13.6,13.9)(14,14.3)(14.4,14.8)(14.8,15.5)(15.2,13.9)(15.6,14.1)(16,14.4)(14.4,10.4)(15,10.8)(13.6,8.5)(11.6,6.4)(10.4,6.4)(10.8,8)(11.2,8.3)(11.6,8.5)(11.2,10)(11.6,10.6)(11.4,12.2)(11.8,12.6)
(15.4,17.2)(15.6,16.4)(15.9,17.6)(16.2,15.3)(16.4,16.8)(16.4,13.4)(16.8,14.8)(16.9,12)(17,16.4)(17.2,17.9)(17.4,15.1)(17.4,12.4)(17.8,13.9)(17.8,16.8)(18,18.4)(18.2,15.5)(18.2,19.9)(18.5,17.2)(18.6,20.4)(18.9,18.6)(19,15.8)(19,14.4)(19.2,21.1)(19.3,17.4)(19.6,19.2)(19.8,16.6)(19.9,21.2)(20.1,17.8)(20.3,20)(20.4,23)(20.5,15.4)(20.6,18.4)(20.7,22)(20.9,24.6)(21,19.7)(21.1,17)(21.3,22.5)(21.4,20.5)(21.5,25.2)(21.6,23.8)(21.7,19)(22,21)(22,26.4)(22.2,24.5)(22.3,22.6)(22.6,20.5)(22.7,26)(22.9,23.5)(23,25)(23.2,22)(23.5,24)(23.6,26.4)(23.8,22.6)(24,25)(24.3,24.5)(19.4,23.3)(19.8,22.6)(18.6,21.7)(18,17)(20.8,26.4)(21.2,26)(20,24.2)(20.3,25.4)
(12.4,8.5)(12.4,9.4)(12.4,11.4)(12.4,12.6)(12.8,8.8)(12.8,9.8)(12.8,11.6)(12.8,13)(13.2,9)(13.2,9.9)(13.2,10.8)(13.2,11.7)(13.2,12.6)(13.2,13.5)(13.6,9.3)(13.6,10.2)(13.6,12.4)(13.6,13.3)(14,9.5)(14,10.4)(14,11.3)(14,12.2)(14,13.1)(14,14.6)(14.4,8.8)(14.4,9.7)(14.4,11)(14.4,13)(14.4,13.8)(14.8,9.9)(14.8,11)(14.8,12.9)(14.8,13.6)(14.8,14.5)(15.2,10.2)(15.2,12.7)(15.2,14.9)(15.2,15.9)(15.6,10.8)(15.6,13)(15.6,14.9)(15.6,15.3)(15.6,16.3)(16,12.6)(16,13.2)(16,15.4)(16,16)(16,16.8)(16.4,13.9)(16.4,15.1)(16.4,16)(16.4,17.3)(16.8,13)(16.8,16)(16.8,17)(16.8,17.8)(17.2,14)(17.2,15.5)(17.2,16.8)
(17.6,17)(17.6,16)(18,14)(18,16)(18,17.6)(18,19)(18.4,13)(18.4,16.7)(18.4,18.6)(18.8,15.2)(18.8,17.8)(18.8,19.6)(19.2,16.1)(19.2,18.2)(19.2,20)(19.6,17.5)(19.6,20.4)(19.6,21)(20,15.5)(20,18.6)(20,20.6)(20.4,17.2)(20.4,19.7)(20.4,21.6)(20.8,19)(20.8,20.8)(20.8,23.4)(21.2,19.5)(21.2,21.6)(21.2,24.2)(21.6,20.2)(21.6,22.3)(21.6,25)(22,22.6)(22,23.4)(22,25.4)(22.4,21.5)(22.4,25.9)(22.8,22.6)(22.8,24.3)(23.2,23.5)(23.2,26)(23.6,24.9)}
\coreA
\end{axis}
\begin{axis}[ov,at={(52pt,38pt)},anchor=south west,width=281pt,height=93.5pt,leg={.664}{.302}{-3pt}{.3pt}{7.4}]
\addplot[red,line width=1.8pt,forget plot] coordinates {(2.31,0)(24.4,26.5)};
\legV{30}{14.75}{VO}\legF{30}
\end{axis}
%% ---------- (d) scatter
\begin{axis}[scat,tserif,at={(445.5pt,37pt)},anchor=south west,width=270.5pt,height=94pt,
 xlabel={\lab{83}{8}{IGS GIM/TECu}},xlabel style={at={(axis description cs:.503,-.26)}},
 ylabel={\lab{100}{9}{GR\_Poly RIM/TECu}},ylabel style={at={(axis description cs:-.098,.495)}},
 cbar={1.0259}{16.5}{.207,.415,.606,.824}{\lserif\bfseries\fsz{14.5}0.01,\lserif\bfseries\fsz{14.5}0.02,\lserif\bfseries\fsz{14.5}0.03,\lserif\bfseries\fsz{14.5}0.04}]
\lay{J1}{(21.5,26.5)(22.9,26.5)(20,25.8)(20.9,25.5)(19.9,24)(22.2,25.9)(24.2,26.3)(24.7,26.4)(25.3,25.6)(26.1,25.8)(26.5,25.1)(23.7,25.1)(22.7,25.1)(18.3,20.8)(18.7,21)(19.1,19.9)(19.6,20.1)(17.3,17.9)(18.2,17.9)(17,17.1)(15.2,15.4)(13.7,14.9)(12.4,14.6)(11,14.6)(9.6,15)(5.7,13.5)(7.1,13.1)(8.2,13.1)(9.3,13.1)(10.6,13.3)(2.1,11.5)(3.5,10.7)(6.5,11.5)(2,9.6)(2.1,7.8)(4.7,10.1)(5.7,9.9)(3.4,9)(4,8.7)(4.5,9)(4.75,8.6)(3.3,7.4)(4.3,7.2)(5.3,8.5)(5.3,7.8)(6.2,8.8)(6.3,8.2)(7.3,9)(8,9.7)(8.1,9.2)(2.5,6.3)(2.9,6.2)(2,5.1)(1.4,4.1)(.8,2.4)(.3,1.8)(1.75,4.7)(2.2,5.6)(3.7,6.8)(4.7,7)
(9.7,2.1)(8.5,1.4)(15.8,1.2)(15.2,3.8)(13,2.9)(13.5,2.6)(14.2,2.9)(14.6,2.7)(12.7,2.7)(16.7,3.6)(18.9,5.6)(16.5,5.8)(17.5,8.5)(20.6,8.6)(20.2,10.6)
(4.6,0)(5,0)(5.3,0)(5.6,0)(6,0)(6.4,0)(6.8,0)(7,0)(8.6,0)(9.5,0)(10.6,0)(10.8,0)(11.9,0)(12.3,0)(13.1,0)(13.7,0)(15.2,0)(17,0)(6.8,.5)(7.1,1.2)(7.4,1.8)(8,2.6)(8.5,3.2)(9,3.8)(9.5,4.1)(10,4.3)
(10,11.2)(10.4,12)(10.9,11.6)(11.4,12.1)(11.8,12.6)(12.3,12.9)(12.8,13.4)(13.2,13.7)(13.7,13.6)(14.2,14.3)(14.7,14.5)(11,10.2)(11.4,10.5)(11.8,10.9)(12.2,11.2)(12.6,11.6)(13,11.9)(13.4,12.4)(13.8,12.6)(14.2,13)(14.6,13.4)(15,13.7)(15.4,14)(15.8,14.3)(16.2,14.7)(11,8.8)(11.4,9.2)(11.8,9.6)(12.2,10)(12.6,10.3)(13,10.6)(13.4,11)(13.8,11.4)(14.2,11.8)(14.6,12.1)(15,12.5)(15.4,12.8)(15.8,13.1)(16.2,13.4)(11,7.5)(11.5,8)(12,8.3)(12.5,8.9)(13,9.3)(13.5,9.8)(14,10.2)(14.5,10.8)(15,11.1)(15.5,11.5)(16,11.9)(16.5,12.2)(10.5,6.2)(11,6.2)(11.5,6.7)(12,5.6)(12.3,7)(12.6,5.1)(12.9,4.5)(13,7.9)(13.3,6.3)(13.6,4.2)(13.8,8.4)(14.1,7.1)(14.4,5.4)(14.7,8.8)(14.9,6.5)(15.1,9.8)(15.4,7.3)(15.6,10.3)(15.9,8.5)(16.1,6.7)(16.3,10.9)(16.5,9)(16.8,7.6)(17,11.4)(17,9.8)(17.3,12.5)(17.5,10.6)
(17,15.8)(17.4,16.4)(17.8,15.4)(18.2,16.7)(18.5,18.3)(16.8,14)(17.2,14.7)(17.6,13.6)(18,14.2)(18.3,12.4)(18.6,15.6)(18.8,17.2)(19,19)(19,13.4)(19.3,14.7)(19.4,16.4)(19.7,18.2)(19.9,11.8)(20,13.2)(20,15.5)(20.2,17.3)(20.4,19)(20.6,12.2)(20.7,14.4)(20.9,16.2)(21,18)(21,20.2)(21.3,11.6)(21.4,13.3)(21.5,15.1)(21.6,17)(21.7,19)(21.9,14.4)(22,16)(22,18)(22.1,20.4)(22,21.8)(20.2,21.8)(20.5,20.4)(20.8,23)(21.2,22.4)(21.5,21)(21.7,23.8)(22.3,23)(22.4,19.2)(22.6,22)(22.7,20.3)(22.9,23.9)(23,18)(23.1,21.6)(23.4,19.4)(23.5,23)(23.7,21)(23.9,24)(24.2,19.6)(24.3,22.5)(24.5,24.5)(24.8,21.2)(25,22.8)(25.4,23.8)(25.6,21.8)(25.8,23)(26.2,24.2)(26.3,22.9)(20.4,23.8)(21.2,24.6)(22.2,24.2)(23.4,24.9)
(10.8,6)(10.8,7.2)(11.2,5.5)(11.2,6.4)(11.2,7.3)(11.2,8.2)(11.2,9.6)(11.2,10.7)(11.6,5.8)(11.6,6.9)(11.6,7.8)(11.6,8.7)(11.6,10.4)(11.6,11.2)(12,6.2)(12,7.1)(12,8.9)(12,9.8)(12,10.7)(12,11.6)(12.4,5.6)(12.4,6.5)(12.4,7.4)(12.4,8.3)(12.4,10)(12.4,11.3)(12.4,12.1)(12.8,6)(12.8,6.9)(12.8,7.7)(12.8,9.7)(12.8,11)(12.8,12.3)(13.2,6.2)(13.2,7.3)(13.2,8.4)(13.2,9.3)(13.2,10.2)(13.2,11.2)(13.2,12.8)(13.6,5.2)(13.6,7.1)(13.6,8)(13.6,9)(13.6,10.6)(13.6,11.9)(13.6,12.9)(14,6)(14,8.9)(14,9.8)(14,11.2)(14,12.7)(14,13.5)(14.4,6.6)(14.4,7.8)(14.4,9.9)(14.4,11)(14.4,11.9)(14.4,13.7)(14.8,7.5)(14.8,9.5)(14.8,10.6)(14.8,11.6)(14.8,12.6)(14.8,14)(15.2,6.4)(15.2,8.4)(15.2,9.3)(15.2,11)(15.2,12)(15.2,13.1)(15.2,14.4)(15.6,8)(15.6,9.2)(15.6,11)(15.6,12.7)(15.6,13.6)(15.6,14.7)(16,7.4)(16,9.8)(16,10.7)(16,12.6)(16,13.7)(16,15)(16.4,8.3)(16.4,11.6)(16.4,12.9)(16.4,14.2)(16.4,15.4)(16.8,8.8)(16.8,10.7)(16.8,12.8)(16.8,15.3)(16.8,16)(17.2,9.3)(17.2,11.5)(17.2,13.4)(17.2,15)(17.2,16.2)(17.6,9.9)(17.6,12)(17.6,14.6)(17.6,16)(17.6,17)(18,10.7)(18,12.8)(18,15.1)(18,16.5)(18,18)(18.4,11.4)(18.4,13.9)(18.4,15.6)(18.4,17.2)(18.4,18.8)(18.8,10.4)(18.8,12.8)(18.8,14.5)(18.8,16.5)(18.8,18)(19.2,11.3)(19.2,13.7)(19.2,15.8)(19.2,17.2)(19.2,19.4)(19.6,12.4)(19.6,14.9)(19.6,16.2)(19.6,18)(19.6,19.9)(20,12.7)(20,14)(20,16.3)(20,18.1)(20,20.4)(20.4,13.7)(20.4,15.2)(20.4,17.7)(20.4,19.4)(20.4,21)(20.8,15)(20.8,17.4)(20.8,18.6)(20.8,20.6)(20.8,22)(21.2,14.1)(21.2,16.6)(21.2,18.5)(21.2,19.6)(21.2,21.5)(21.6,11.8)(21.6,13.9)(21.6,16)(21.6,18.2)(21.6,20.3)(22,15)(22,17)(22,19.2)(22,21)(22,23)(22.4,17.8)(22.4,20.1)(22.4,22.2)(22.4,24)}
\lay{J2}{(0,0)(.2,0)(.3,.6)(.6,1)(.9,1.6)(1.2,2.2)(1.5,2.8)(1.8,3.3)(2.1,3.7)(2.4,4.1)(2.7,4.5)(3,4.9)(3.3,5.2)(3.6,5.5)(3.9,5.8)(4.2,6)(4.5,6.3)(4.8,6.6)(5.1,6.8)(5.4,7)(5.7,7.2)(6,7.4)(6.3,7.6)(6.6,7.8)(6.9,8)(7.2,8.2)(7.5,8.4)(7.8,8.6)(8.1,8.8)(8.4,9)(8.7,9.2)(9,9.4)(9.3,9.6)(9.6,9.9)(9.9,10.1)(10.2,10.3)(10.5,10.6)
(4.2,0)(4.5,0)(4.8,0)(5.1,.3)(5.4,.8)(5.7,1.3)(6,1.8)(6.3,2.2)(6.6,2.6)(6.9,3)(7.2,3.3)(7.5,3.6)(7.8,3.9)(8.1,4.2)(8.4,4.5)(8.7,4.8)(9,5.1)(9.3,5.4)(9.6,5.7)(9.9,6)(10.2,6.3)(10.2,7.3)(10.5,7.7)(10.8,8)(10.2,8.4)(10.5,8.7)(10.8,9)(10.2,9.4)(10.5,9.7)(10.8,10)}
\lay{J3}{(.3,0)(.6,.3)(.9,.8)(1.2,1.4)(1.5,2)(1.8,2.5)(2.1,2.9)(2.4,3.3)(2.7,3.7)(3,4)(3.3,4.3)(3.6,4.6)(3.9,4.9)(4.2,5.1)(4.5,5.4)(4.8,5.6)(5.1,5.9)(5.4,6.1)(5.7,6.3)(6,6.5)(6.3,6.7)(6.6,6.9)(6.9,7.1)(7.2,7.3)(7.5,7.5)(7.8,7.7)(8.1,7.9)(8.4,8.1)(8.7,8.3)(9,8.5)(9.3,8.7)(9.6,8.9)
(4.2,0)(4.5,.2)(4.8,.7)(5.1,1.1)(5.4,1.6)(5.7,2.1)(6,2.6)(6.3,3)(6.6,3.4)(6.9,3.8)(7.2,4.1)(7.5,4.5)(7.8,4.8)(8.1,5.1)(8.4,5.4)(8.7,5.7)(9,6)(9.3,6.3)(9.6,6.6)(9.9,7)(9.9,7.8)(9.3,7.5)(9,7.2)(8.7,7)(8.4,6.7)(8.1,6.4)(7.8,6.2)(7.8,6.9)(8.1,7.1)(8.4,7.4)(8.7,7.6)(9,7.9)(9.3,8.2)(9.6,7.8)}
\lay{J4}{(.6,0)(.9,.2)(1.2,.7)(1.5,1.3)(1.8,1.8)(2.1,2.2)(2.4,2.6)(2.7,3)(3,3.3)(3.3,3.6)(3.6,3.9)(3.9,4.2)(4.2,4.4)(4.5,4.6)(4.8,4.9)(5.1,5.1)(5.4,5.3)(5.7,5.5)(6,5.7)(6.3,5.9)(6.6,6.1)(6.9,6.3)(7.2,6.5)(7.5,6.6)
(3.9,0)(4.2,.2)(4.5,.7)(4.8,1.3)(5.1,1.8)(5.4,2.3)(5.7,2.8)(6,3.3)(6.3,3.7)(6.6,4.1)(6.9,4.5)(7.2,5)(7.5,5.7)(6.3,4.8)(6.6,5.1)(6.9,5.4)(7.2,5.7)}
\lay{J5}{(.9,0)(1.2,.2)(1.5,.7)(1.8,1.2)(2.1,1.7)(2.4,2.1)(2.7,2.5)(3,2.8)(3.3,3.1)(3.6,3.4)(3.9,3.6)(4.2,3.8)(4.5,4)(4.8,4.2)(5.1,4.4)(5.4,4.6)(5.7,4.8)(6,5)(3.6,0)(3.9,.3)(4.2,.8)(4.5,1.3)(4.8,1.8)(5.1,2.4)(5.4,2.9)(5.7,3.4)(6,3.9)(5.7,4.1)(6,4.5)}
\lay{J6}{(1.2,0)(1.5,.3)(1.8,.8)(2.1,1.3)(2.4,1.7)(2.7,2.1)(3,2.5)(3.3,2.8)(3.6,3.1)(3.9,3.3)(4.2,3.5)(4.5,3.6)(4.8,3.8)(5.1,3.9)(5.4,4)(3.3,0)(3.6,.2)(3.9,.7)(4.2,1.2)(4.5,1.7)(4.8,2.2)(5.1,2.8)(5.4,3.3)}
\lay{J7}{(1.5,0)(1.8,.4)(2.1,.9)(2.4,1.4)(2.7,1.8)(3,2.2)(3.3,2.5)(3.6,2.8)(3.9,3)(4.2,3.2)(4.5,3.3)(4.8,3.4)(3,0)(3.3,.2)(3.6,.6)(3.9,1.1)(4.2,1.6)(4.5,2.1)(4.8,2.7)}
\lay{J8}{(1.8,.2)(2.1,.6)(2.4,1)(2.7,1.5)(3,1.9)(3.3,2.2)(3.6,2.5)(3.9,2.7)(4.2,2.9)(4.5,2.9)(2.1,.2)(2.4,.4)(2.7,.2)(3,.4)(3.3,.6)(3.6,1)(3.9,1.5)(4.2,2)(4.5,2.4)(2.7,.9)(3,1.2)(3.3,1.5)(3.6,1.8)(3.9,2.1)}
\lay[1.3pt]{J9}{(2.4,.6)(2.7,.9)(3,1)(3,1.4)(3.3,1.2)(3.3,1.7)(3.6,1.5)(3.6,2)(3.9,1.9)(4.2,2.3)}
\end{axis}
\begin{axis}[ov,at={(445.5pt,37pt)},anchor=south west,width=270.5pt,height=94pt,leg={.617}{.337}{0pt}{1pt}{9.5}]
\addplot[red,line width=1.8pt,forget plot] coordinates {(1.82,0)(26.5,24.2)};
\legV{28}{13.85}{J4}\legF{28}
\end{axis}
%% ---------- annotations
\T{135}{58}{Bias= -1.59}\T{135}{80}{STD= 2.02}
\T{923}{65}{Bias= -1.60}\T{923}{87}{STD= 1.87}
\T{128}{669}{Bias= -1.47}\T{128}{691}{STD= 2.76}
\T{911}{678}{Bias= -1.89}\T{911}{700}{STD= 1.62}
\T{131}{348}{Y =1.10X -2.23}\T{131}{370.5}{Cor = 0.82}
\T{923}{351}{Y =1.11X -2.30}\T{923}{373}{Cor = 0.85}
\T{125}{961}{Y =1.20X -2.77}\T{125}{983}{Cor = 0.70}
\T{910}{954}{Y =0.98X -1.78}\T{910}{975}{Cor = 0.87}
\end{tikzpicture}
\end{document}
